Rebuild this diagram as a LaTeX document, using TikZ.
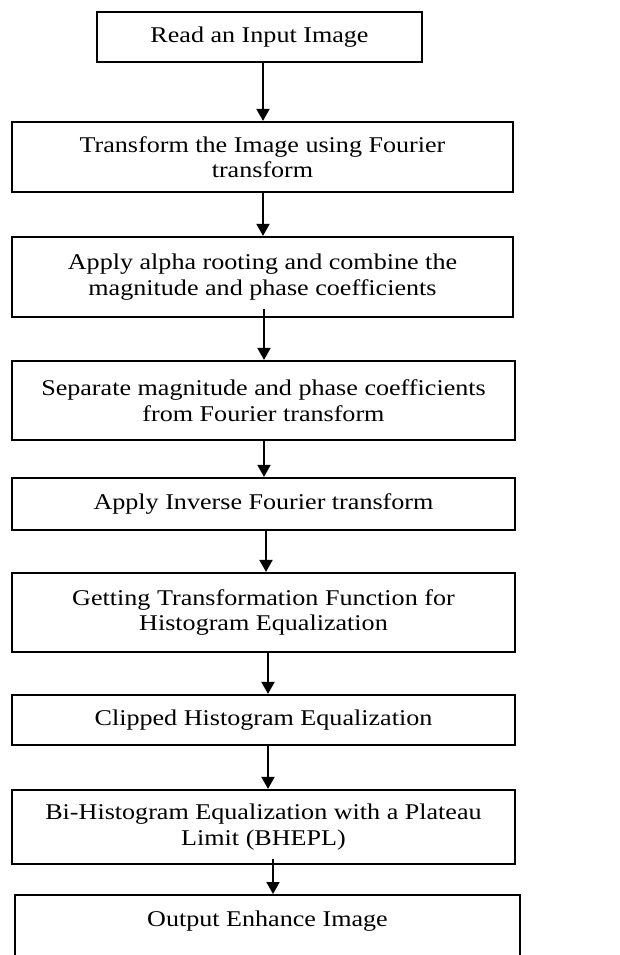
\documentclass[tikz,border=0pt]{standalone}
\usepackage{fontspec}
\setmainfont{Liberation Serif}[FakeStretch=1.16]
\usetikzlibrary{
		arrows.meta,
		calc
	}
\tikzset{
		>={Triangle[width=13pt,length=12pt]},
		stepbox/.style={draw, line width=2.2pt, align=center, inner sep=0pt},
		flow/.style={->, line width=1.9pt}
	}

\begin{document}
\begin{tikzpicture}[x=1pt,y=-1pt,font=\fontsize{22.5}{25.5}\selectfont]
          \useasboundingbox (0,0) rectangle (620,955);
          \clip (0,0) rectangle (620,955);

          \node[stepbox, minimum width=325pt, minimum height=50pt] (read) at (259.5,37) {Read an Input Image};
          \node[stepbox, minimum width=501pt, minimum height=70pt] (fourier) at (262.5,157) {Transform the Image using Fourier\\transform};
          \node[stepbox, minimum width=501pt, minimum height=80pt] (alpha) at (262.5,277) {Apply alpha rooting and combine the\\magnitude and phase coefficients};
          \node[stepbox, minimum width=503pt, minimum height=79pt] (separate) at (263.5,400.5) {Separate magnitude and phase coefficients\\from Fourier transform};
          \node[stepbox, minimum width=503pt, minimum height=52pt] (inverse) at (263.5,504) {Apply Inverse Fourier transform};
          \node[stepbox, minimum width=503pt, minimum height=79pt] (getting) at (263.5,612.5) {Getting Transformation Function for\\Histogram Equalization};
          \node[stepbox, minimum width=503pt, minimum height=50pt] (clipped) at (263.5,720) {Clipped Histogram Equalization};
          \node[stepbox, minimum width=503pt, minimum height=74pt] (bihist) at (263.5,827) {Bi-Histogram Equalization with a Plateau\\Limit (BHEPL)};
          \node[stepbox, anchor=north, minimum width=505pt, inner ysep=16pt, text depth=60pt] (output) at (267.5,894) {Output Enhance Image};

          % arrows between the steps
          \foreach \a/\b/\s/\u in {read/fourier/3.5/0, fourier/alpha/0.5/0, alpha/separate/1.5/-9,
                    separate/inverse/0.5/0, inverse/getting/2.5/0, getting/clipped/4.5/0,
                    clipped/bihist/4.5/0, bihist/output/9.5/-6}
            \draw[flow] (\a.south) ++(\s,\u) coordinate (t) -- (t |- \b.north);

\end{tikzpicture}
\end{document}
